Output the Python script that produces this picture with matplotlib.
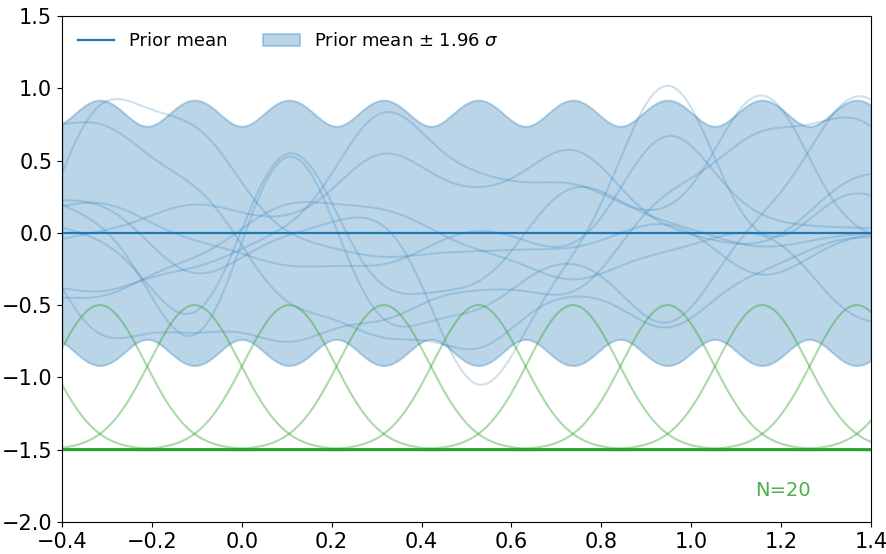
import matplotlib
matplotlib.use("Agg")

import numpy as np
import matplotlib.pyplot as plt

# 20 gaussian basis functions spread over [-2, 2]
n_basis = 20
centers = np.linspace(-2, 2, n_basis)
basis_width = 0.1
weight_std = 0.463
basis_offset = -1.5

# sample weights at the visible centres
# (-0.526, -0.316, -0.105, 0.105, 0.316, 0.526, 0.737, 0.947, 1.158, 1.368, 1.579)
visible_idx = np.arange(7, 18)
sample_weights = [
    [-0.45, 0.86, 0.65, -0.05, -0.15, -0.10, -0.10, 0.10, -0.30, 0.00, 0.00],
    [0.65, 0.65, 0.30, -0.45, -0.60, -0.70, -0.30, -0.60, -0.20, 0.00, -0.10],
    [0.30, 0.10, -0.79, 0.68, -0.62, -0.45, -0.10, -0.62, 0.10, 0.90, 0.30],
    [0.10, 0.00, -0.62, 0.66, -0.40, -0.33, 0.34, 0.05, -0.10, 0.00, 0.00],
    [-0.30, -0.35, -0.20, 0.00, 0.80, 0.30, 0.30, 0.05, 0.95, -0.05, -0.05],
    [-0.10, 0.00, 0.19, 0.05, 0.52, 0.20, 0.55, 0.00, -0.10, 0.35, 0.40],
    [0.20, 0.20, -0.30, 0.00, 0.16, -1.05, -0.15, 1.05, -0.15, 0.30, -0.10],
    [0.10, 0.20, -0.05, -0.20, -0.20, 0.05, -0.15, 0.68, 0.05, 0.03, 0.00],
    [0.20, -0.66, -0.55, -0.64, -0.50, -0.30, -0.40, 0.25, 0.60, 0.70, 0.20],
    [-0.40, -0.38, -0.15, 0.20, 0.15, -0.10, -0.30, -0.10, 0.05, -0.52, -0.60],
]

x_min, x_max = -0.4, 1.4
x = np.linspace(x_min, x_max, 600)


def basis(xs):
    return np.exp(-(xs[:, None] - centers[None, :]) ** 2 / (2 * basis_width ** 2))


def main():
    phi = basis(x)
    mean = np.zeros_like(x)
    sd = weight_std * np.sqrt((phi ** 2).sum(axis=1))

    fig = plt.figure(figsize=(8.86, 5.54), dpi=100)
    ax = fig.add_axes([0.070, 0.058, 0.913, 0.913])

    ax.plot(x, mean, color="C0", linewidth=1.6, label="Prior mean")
    ax.fill_between(x, mean - 1.96 * sd, mean + 1.96 * sd, color="C0",
                    alpha=0.3, linewidth=1.5, label=r"Prior mean $\pm$ 1.96 $\sigma$")

    for w in sample_weights:
        full = np.zeros(n_basis)
        full[visible_idx] = w
        ax.plot(x, phi @ full, color="C0", alpha=0.22, linewidth=1.5)

    # basis functions shifted down
    for i in range(n_basis):
        ax.plot(x, phi[:, i] + basis_offset, color="C2", alpha=0.4, linewidth=1.5)
    ax.axhline(basis_offset, color="C2", linewidth=1.6)
    ax.text(1.205, -1.78, "N=%d" % n_basis, color="C2", alpha=0.85, fontsize=14,
            ha="center", va="center")

    ax.set_xlim(x_min, x_max)
    ax.set_ylim(-2.0, 1.5)
    ax.tick_params(axis="both", labelsize=15)
    ax.legend(loc="upper left", ncol=2, frameon=False, fontsize=13)

    fig.savefig("out.png", dpi=100)


if __name__ == "__main__":
    main()
